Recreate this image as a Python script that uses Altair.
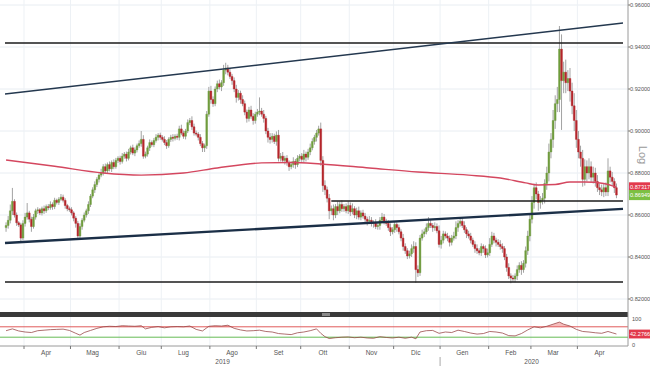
import altair as alt
import pandas as pd

# ---------------- data ----------------
close_pips = [
 8550,8575,8620,8665,8600,8563,8553,8490,8560,8590,
 8610,8580,8545,8590,8620,8625,8610,8630,8620,8640,
 8635,8650,8640,8670,8660,8675,8685,8670,8645,8630,
 8625,8610,8585,8560,8500,8545,8575,8600,8620,8650,
 8690,8720,8745,8770,8790,8800,8830,8810,8840,8820,
 8850,8830,8860,8870,8855,8880,8890,8870,8900,8920,
 8895,8910,8930,8940,8960,8880,8890,8920,8945,8935,
 8955,8970,8980,8970,8960,8945,8930,8960,8970,8965,
 8975,8970,9010,8990,8975,9000,9040,9050,9020,8990,
 8985,8970,8940,8920,8930,9080,9190,9150,9130,9200,
 9225,9210,9230,9290,9300,9280,9260,9240,9200,9160,
 9180,9150,9130,9090,9060,9100,9070,9050,9080,9090,
 9095,9080,9060,9000,8970,8960,8975,8950,8980,8870,
 8880,8860,8870,8850,8830,8840,8855,8840,8870,8880,
 8865,8890,8875,8900,8920,8950,8970,8990,9010,8860,
 8740,8720,8680,8620,8630,8600,8640,8620,8650,8630,
 8640,8620,8645,8615,8630,8600,8620,8590,8610,8595,
 8580,8570,8575,8560,8565,8545,8550,8575,8590,8570,
 8560,8540,8520,8530,8555,8540,8520,8490,8450,8430,
 8405,8415,8440,8450,8340,8325,8490,8510,8520,8540,
 8560,8550,8540,8545,8525,8460,8480,8510,8500,8490,
 8470,8490,8500,8540,8560,8570,8550,8530,8510,8500,
 8480,8460,8440,8430,8420,8450,8440,8410,8420,8460,
 8500,8480,8470,8460,8450,8440,8400,8350,8310,8300,
 8295,8310,8340,8360,8340,8370,8430,8500,8580,8660,
 8730,8700,8660,8670,8680,8750,8800,8900,8960,9050,
 9130,9150,9390,9240,9280,9230,9250,9190,9120,9050,
 8960,8900,8870,8770,8830,8800,8830,8780,8800,8760,
 8730,8720,8710,8730,8710,8810,8780,8760,8730,8695,
]
upper_wick_pips = [
 15,20,30,64,10,12,8,10,15,20,
 47,10,12,15,10,12,8,10,15,10,
 12,15,10,12,8,10,15,12,10,8,
 10,12,8,10,12,15,10,12,10,15,
 10,12,15,10,8,20,12,15,10,15,
 10,15,12,10,12,15,10,12,15,10,
 15,12,10,15,40,20,12,10,15,10,
 12,15,10,12,10,15,12,10,12,15,
 10,12,15,20,12,10,15,12,20,15,
 12,10,15,12,10,15,20,25,15,12,
 15,20,12,25,25,15,20,12,15,20,
 15,12,20,15,12,15,20,15,12,15,
 65,15,20,12,15,20,15,12,18,25,
 15,20,12,15,10,15,20,12,15,10,
 15,20,12,15,20,15,12,15,15,30,
 20,25,15,20,15,20,12,25,15,20,
 12,15,20,15,25,12,15,20,12,15,
 15,12,20,15,10,15,12,15,20,15,
 12,15,20,12,15,10,15,12,20,15,
 12,15,20,25,20,20,15,20,15,20,
 30,15,12,20,15,25,20,15,12,15,
 12,15,20,30,15,12,15,20,12,15,
 15,12,15,20,12,15,10,15,20,30,
 20,15,12,15,20,15,12,15,20,12,
 15,12,20,15,20,15,20,25,20,30,
 20,25,15,20,25,20,30,40,30,50,
 40,60,110,70,50,60,40,50,40,60,
 50,40,30,40,35,30,40,25,30,25,
 30,20,25,20,25,60,20,25,15,20,
]
lower_wick_pips = [
 20,15,15,20,12,15,10,18,10,15,
 12,15,25,10,12,15,10,12,15,10,
 12,10,15,12,10,12,8,10,15,12,
 10,12,15,20,10,12,15,10,12,15,
 12,10,15,12,15,10,12,15,10,12,
 15,12,10,12,15,10,12,15,10,12,
 10,15,12,10,15,12,10,12,15,10,
 12,10,15,12,10,12,15,10,12,15,
 10,12,15,10,12,15,10,12,15,12,
 10,15,12,20,20,15,12,20,15,12,
 15,12,20,15,20,15,12,20,15,25,
 15,20,12,15,20,15,12,20,15,12,
 15,12,20,15,25,20,15,12,20,15,
 15,12,20,15,20,12,15,20,12,15,
 12,15,20,12,15,12,15,20,12,25,
 30,25,20,40,20,25,15,20,12,15,
 15,12,15,20,12,15,20,12,15,12,
 15,20,12,15,20,12,15,20,12,15,
 12,15,20,12,15,20,12,15,20,15,
 15,12,15,20,63,20,15,12,15,12,
 15,12,20,15,12,15,20,15,12,15,
 20,15,12,15,20,15,12,15,20,12,
 15,12,20,15,12,15,20,15,12,15,
 12,15,20,12,15,20,15,20,15,25,
 13,15,20,15,25,15,20,20,25,20,
 30,25,40,30,20,25,30,40,30,40,
 40,40,60,235,60,50,40,50,40,50,
 40,30,40,35,30,40,30,25,30,25,
 20,25,20,25,20,20,25,20,25,15,
]
first_open_pips = 8540

ma_idx = [0, 23, 46, 64, 84, 100, 121, 135, 149, 172, 195, 219, 234, 246, 252, 260, 267, 274, 283, 289]
ma_val = [0.8862, 0.8832, 0.8800, 0.8790, 0.8800, 0.8824, 0.8848, 0.8850, 0.8843, 0.8824,
          0.8805, 0.8790, 0.8776, 0.8753, 0.8743, 0.8745, 0.8757, 0.8757, 0.8750, 0.8732]

rsi_idx = [0, 3, 6, 9, 12, 15, 18, 21, 24, 27, 30, 33, 35, 37, 40, 43, 46, 49, 52, 55,
           58, 61, 64, 66, 69, 72, 75, 78, 81, 84, 87, 90, 93, 96, 99, 102, 105, 108, 111, 114,
           117, 120, 123, 126, 129, 132, 135, 138, 141, 144, 147, 149, 151, 153, 156, 159, 162, 165, 168, 171,
           174, 177, 180, 183, 186, 189, 192, 194, 196, 199, 202, 205, 208, 211, 214, 217, 220, 223, 226, 229,
           232, 235, 238, 241, 244, 247, 250, 253, 256, 259, 262, 264, 267, 270, 273, 276, 279, 282, 285, 287,
           289]
rsi_val = [55, 62, 54, 50, 48, 55, 57, 59, 60, 61, 56, 45, 38, 48, 56, 64, 70, 72, 71, 74,
           73, 72, 74, 62, 68, 71, 66, 70, 71, 70, 73, 60, 54, 72, 74, 73, 76, 64, 58, 54,
           55, 57, 52, 50, 44, 42, 40, 47, 50, 55, 62, 45, 32, 25, 28, 30, 31, 28, 30, 27,
           26, 32, 29, 27, 30, 26, 30, 24, 50, 55, 56, 45, 50, 48, 57, 52, 46, 42, 44, 52,
           50, 46, 36, 35, 44, 58, 70, 66, 72, 80, 88, 80, 73, 60, 52, 50, 47, 45, 52, 47,
           42.28]

price_ticks = [0.82, 0.84, 0.86, 0.88, 0.90, 0.92, 0.94, 0.96]
level_price = [0.9419, 0.8667, 0.8281]
level_from = [-0.5, 154, -0.5]
trend_x = [-0.5, 292.1]
upper_trend_y = [0.9176, 0.9514]
lower_trend_y = [0.8467, 0.8629]
last_ma, last_close, last_rsi = 0.87317, 0.86949, 42.2766
month_names = ["Gen", "Feb", "Mar", "Apr", "Mag", "Giu", "Lug", "Ago", "Set", "Ott", "Nov", "Dic"]

# ---------------- build tables ----------------
N = len(close_pips)
assert len(upper_wick_pips) == N and len(lower_wick_pips) == N
assert len(rsi_idx) == len(rsi_val)
dates = pd.bdate_range("2019-03-19", periods=N)
closes = [c / 10000 for c in close_pips]
opens = [first_open_pips / 10000] + closes[:-1]
highs = [max(o, c) + u / 10000 for o, c, u in zip(opens, closes, upper_wick_pips)]
lows = [min(o, c) - l / 10000 for o, c, l in zip(opens, closes, lower_wick_pips)]
ohlc = pd.DataFrame({"i": range(N), "open": opens, "close": closes, "high": highs, "low": lows})

X_DOM = [-0.5, 292.1]
PW = 628
MAIN_B = 312
RSI_T, RSI_B = 318, 346
LAB_X = 630
LAB_FS = 5.6

months = []
for d in dates:
    if (d.year, d.month) not in months:
        months.append((d.year, d.month))
tick_rows, label_rows = [], []
jan_idx = None
for (yy, mm) in months:
    idx = [k for k, d in enumerate(dates) if d.year == yy and d.month == mm]
    if dates[idx[0]].day <= 4:
        tick_rows.append({"t": idx[0] - 0.5})
        if mm == 1:
            jan_idx = idx[0] - 0.5
        mid = [k for k in idx if dates[k].day >= 15]
        if mid:
            label_rows.append({"t": mid[0], "lab": month_names[mm - 1]})
ticks_df = pd.DataFrame(tick_rows)
labels_df = pd.DataFrame(label_rows)
years_df = pd.DataFrame({"t": [(X_DOM[0] + jan_idx) / 2, (jan_idx + X_DOM[1]) / 2],
                         "lab": ["2019", "2020"]})
one = pd.DataFrame({"a": [0]})

FONT = "Liberation Sans"
xs = alt.Scale(domain=X_DOM, range=[0, PW], zero=False, nice=False)
ps = alt.Scale(domain=[0.96 - (MAIN_B - 5) / 2100, 0.96 + 5 / 2100], range=[MAIN_B, 0], zero=False, nice=False)
rs = alt.Scale(domain=[0, 100], range=[RSI_B - 1, RSI_T + 1], zero=False, nice=False)


def X(f):
    return alt.X(f, type="quantitative", scale=xs, axis=None)


def YP(f):
    return alt.Y(f, type="quantitative", scale=ps, axis=None)


def YR(f):
    return alt.Y(f, type="quantitative", scale=rs, axis=None)


# ---------------- price panel ----------------
grid_h = alt.Chart(pd.DataFrame({"p": price_ticks})).mark_rule(color="#e8edf2", strokeWidth=1).encode(
    y=YP("p"), x=alt.value(0), x2=alt.value(PW))
grid_v = alt.Chart(ticks_df).mark_rule(color="#edf1f5", strokeWidth=1).encode(
    x=X("t"), y=alt.value(0), y2=alt.value(RSI_B))
wicks = alt.Chart(ohlc).mark_rule(color="#a3a3a3", strokeWidth=1).encode(
    x=X("i"), y=YP("low"), y2=alt.Y2("high"))
bodies = alt.Chart(ohlc).mark_bar(size=1.8, strokeWidth=0.4).encode(
    x=X("i"), y=YP("open"), y2=alt.Y2("close"),
    color=alt.condition("datum.close >= datum.open", alt.value("#6f9c3d"), alt.value("#b5262c")),
    stroke=alt.condition("datum.close >= datum.open", alt.value("#6f9c3d"), alt.value("#b5262c")))
ma = alt.Chart(pd.DataFrame({"i": ma_idx, "v": ma_val})).mark_line(
    color="#d4475f", strokeWidth=1.4, interpolate="monotone").encode(x=X("i"), y=YP("v"))
levels = alt.Chart(pd.DataFrame({"p": level_price, "x0": level_from, "x1": [X_DOM[1]] * 3})).mark_rule(
    color="#1b1b1b", strokeWidth=1.6).encode(x=X("x0"), x2=alt.X2("x1"), y=YP("p"))
up_tr = alt.Chart(pd.DataFrame({"x0": [trend_x[0]], "x1": [trend_x[1]], "y0": [upper_trend_y[0]], "y1": [upper_trend_y[1]]})
                  ).mark_rule(color="#24384f", strokeWidth=1.5).encode(
    x=X("x0"), x2=alt.X2("x1"), y=YP("y0"), y2=alt.Y2("y1"))
lo_tr = alt.Chart(pd.DataFrame({"x0": [trend_x[0]], "x1": [trend_x[1]], "y0": [lower_trend_y[0]], "y1": [lower_trend_y[1]]})
                  ).mark_rule(color="#1b2f47", strokeWidth=2.4).encode(
    x=X("x0"), x2=alt.X2("x1"), y=YP("y0"), y2=alt.Y2("y1"))

price_lab = alt.Chart(pd.DataFrame({"p": price_ticks})).mark_text(
    align="left", baseline="middle", font=FONT, fontSize=LAB_FS, color="#555555").encode(
    y=YP("p"), x=alt.value(LAB_X), text=alt.Text("p:Q", format=".5f"))
price_tk = alt.Chart(pd.DataFrame({"p": price_ticks})).mark_rule(color="#666666").encode(
    y=YP("p"), x=alt.value(PW), x2=alt.value(630))
tags = alt.Chart(pd.DataFrame({"p": [last_ma, last_close], "c": ["#e23a4c", "#7cc043"]})).transform_calculate(
    p1="datum.p + 0.0024", p2="datum.p - 0.0024")
tag_box = tags.mark_rect().encode(y=YP("p1"), y2=alt.Y2("p2"), x=alt.value(PW + 1), x2=alt.value(652),
                                  color=alt.Color("c:N", scale=None))
tag_txt = tags.mark_text(align="left", baseline="middle", font=FONT, fontSize=LAB_FS, color="white").encode(
    y=YP("p"), x=alt.value(LAB_X), text=alt.Text("p:Q", format=".5f"))

price_layer = alt.layer(grid_h, grid_v, wicks, bodies, ma, levels, up_tr, lo_tr,
                        price_tk, price_lab, tag_box, tag_txt)

# ---------------- RSI panel ----------------
rsi_df = pd.DataFrame({"i": rsi_idx, "r": rsi_val})
rsi_base = alt.Chart(rsi_df).transform_calculate(
    hi="max(datum.r, 70)", lo="min(datum.r, 30)", l70="70", l30="30")
rsi_hi = rsi_base.mark_area(color="#f2a0a0", opacity=0.7).encode(x=X("i"), y=YR("hi"), y2=alt.Y2("l70"))
rsi_lo = rsi_base.mark_area(color="#b8dc98", opacity=0.8).encode(x=X("i"), y=YR("lo"), y2=alt.Y2("l30"))
rsi_lines = alt.Chart(pd.DataFrame({"v": [70, 30], "c": ["#e05a5a", "#66bb55"]})).mark_rule(strokeWidth=1).encode(
    y=YR("v"), x=alt.value(0), x2=alt.value(PW), color=alt.Color("c:N", scale=None))
rsi_line = alt.Chart(rsi_df).mark_line(color="#9a4a4a", strokeWidth=0.8).encode(x=X("i"), y=YR("r"))
rsi_lab = alt.Chart(pd.DataFrame({"v": [100, 0], "t": ["100", "0"]})).mark_text(
    align="left", baseline="middle", font=FONT, fontSize=LAB_FS, color="#555555").encode(
    y=YR("v"), x=alt.value(632), text="t:N")
rsi_tag_d = alt.Chart(pd.DataFrame({"v": [last_rsi]})).transform_calculate(
    v1="datum.v + 17", v2="datum.v - 17")
rsi_tag = rsi_tag_d.mark_rect(color="#e23a4c").encode(y=YR("v1"), y2=alt.Y2("v2"), x=alt.value(PW + 1), x2=alt.value(652))
rsi_tag_t = rsi_tag_d.mark_text(align="left", baseline="middle", font=FONT, fontSize=LAB_FS, color="white").encode(
    y=YR("v"), x=alt.value(LAB_X), text=alt.Text("v:Q", format=".4f"))
rsi_layer = alt.layer(rsi_hi, rsi_lo, rsi_lines, rsi_line, rsi_lab, rsi_tag, rsi_tag_t)

# ---------------- frame / time axis ----------------
band = alt.Chart(one).mark_rect(color="#3a3a3a").encode(
    x=alt.value(0), x2=alt.value(PW), y=alt.value(MAIN_B), y2=alt.value(RSI_T - 1))
grip = alt.Chart(one).mark_rect(color="#8a8a8a").encode(
    x=alt.value(322), x2=alt.value(330), y=alt.value(MAIN_B + 1), y2=alt.value(RSI_T - 2))
right_line = alt.Chart(one).mark_rule(color="#9a9a9a").encode(
    x=alt.value(PW), y=alt.value(0), y2=alt.value(RSI_B))
base_line = alt.Chart(one).mark_rule(color="#9a9a9a").encode(
    x=alt.value(0), x2=alt.value(PW), y=alt.value(RSI_B))
m_ticks = alt.Chart(ticks_df).mark_rule(color="#777777").encode(
    x=X("t"), y=alt.value(RSI_B), y2=alt.value(RSI_B + 3))
m_labels = alt.Chart(labels_df).mark_text(font=FONT, fontSize=6.5, color="#555555", baseline="middle").encode(
    x=X("t"), y=alt.value(353), text="lab:N")
y_labels = alt.Chart(years_df).mark_text(font=FONT, fontSize=6.5, color="#555555", baseline="middle").encode(
    x=X("t"), y=alt.value(362), text="lab:N")
y_sep = alt.Chart(pd.DataFrame({"t": [jan_idx]})).mark_rule(color="#aaaaaa").encode(
    x=X("t"), y=alt.value(357), y2=alt.value(366))
log_txt = alt.Chart(one).mark_text(text="Log", font=FONT, fontSize=11, color="#9a9a9a", angle=90,
                                   baseline="middle", align="center").encode(x=alt.value(642), y=alt.value(155))
frame_layer = alt.layer(band, grip, right_line, base_line, m_ticks, m_labels, y_labels, y_sep, log_txt)

chart = alt.layer(price_layer, rsi_layer, frame_layer).resolve_scale(y="independent").properties(
    width=650, height=366, padding=0, autosize=alt.AutoSizeParams(type="none"),
    background="white").configure_view(stroke=None)

chart.save("out.html", embed_options={"renderer": "svg", "actions": False})
